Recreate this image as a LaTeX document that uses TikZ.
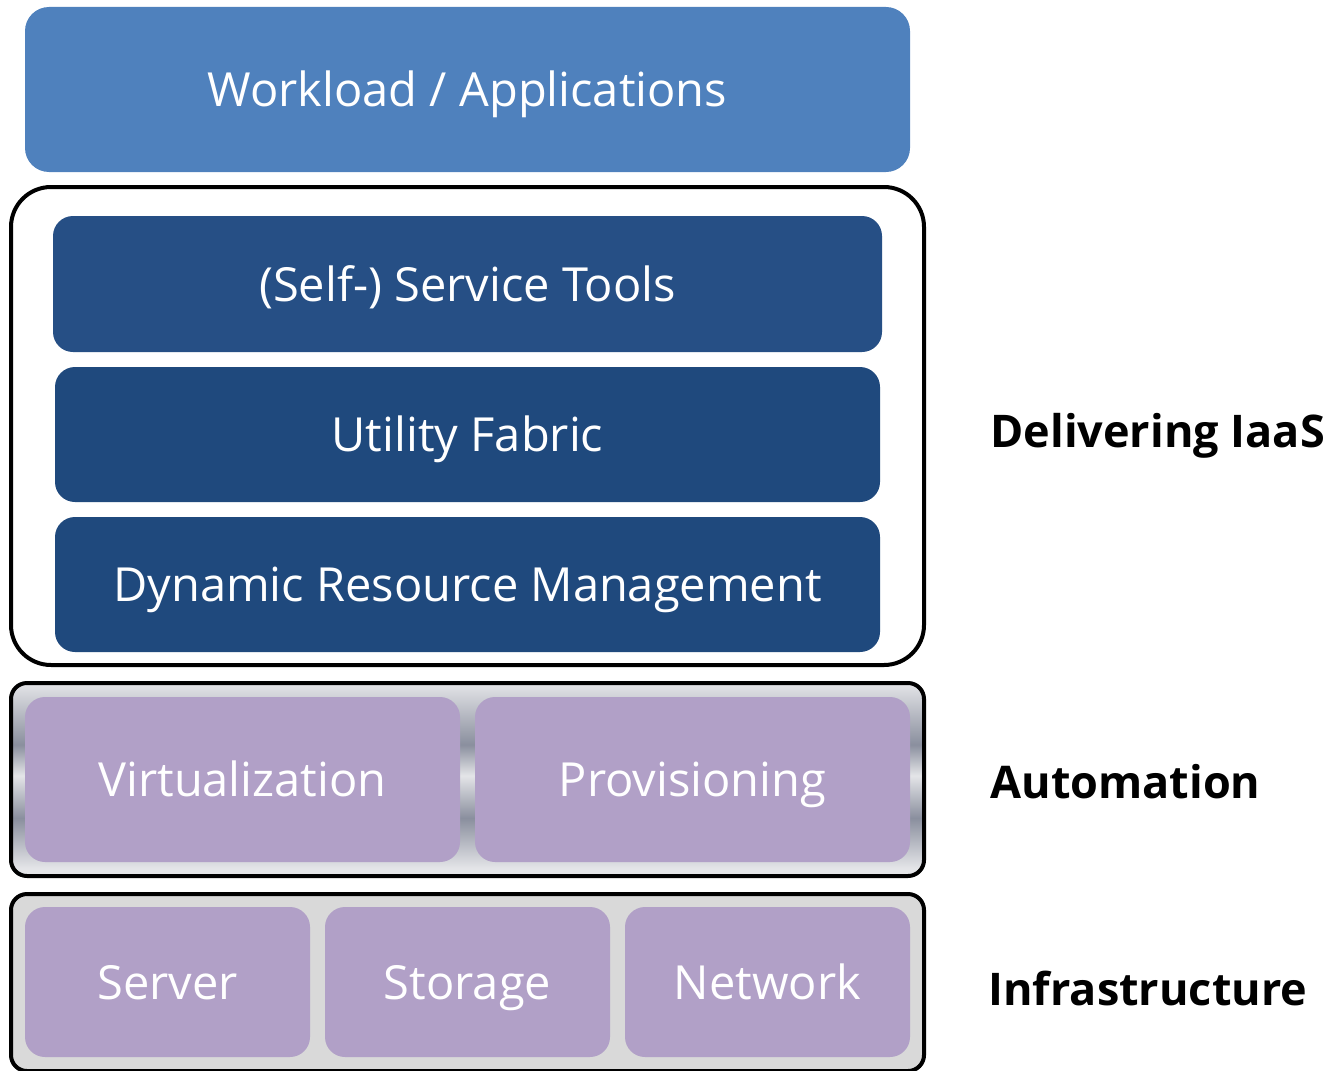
\documentclass[tikz,border=0pt]{standalone}
\usepackage{fontspec}
\setmainfont{Open Sans}
\usetikzlibrary{positioning}

\definecolor{workblue}{HTML}{4F81BD}
\definecolor{toolblue}{HTML}{264F85}
\definecolor{darkblue}{HTML}{1F497D}
\definecolor{lilac}{HTML}{B1A0C7}
\definecolor{infragray}{HTML}{D9D9D9}
\definecolor{metallight}{HTML}{E4E5E8}
\definecolor{metaldark}{HTML}{8A8F9E}

\pgfdeclareverticalshading{metal}{100bp}{
  color(0bp)=(metallight); color(27bp)=(metallight);
  color(40bp)=(metaldark); color(51bp)=(metallight);
  color(59bp)=(metaldark); color(75bp)=(metallight);
  color(100bp)=(metallight)}

\begin{document}
\begin{tikzpicture}[
  x=0.5pt, y=-0.5pt,
  layer/.style = {rounded corners=10pt, text=white, inner sep=0pt,
                  text height=17pt, text depth=0pt,
                  font=\fontsize{23.5}{28}\selectfont},
  frame/.style = {draw=black, line width=2pt, inner sep=0pt},
  side/.style  = {anchor=west, inner sep=0pt,
                  font=\fontsize{22.5}{27}\selectfont\bfseries}
]
  \useasboundingbox (0,0) rectangle (1342,1070);

  % Top layer
  \node[layer, fill=workblue, rounded corners=12pt, minimum width=442.5pt,
        minimum height=82.5pt] (workload) at (467.5,89.5) {Workload / Applications};

  % Delivering IaaS
  \node[frame, fill=white, rounded corners=20pt, minimum width=456.5pt,
        minimum height=239pt] (iaas) at (467.5,426) {};
  \node[layer, fill=toolblue, minimum width=414.5pt, minimum height=68pt]
        (tools) at (467.5,284) {(Self-) Service Tools};
  \node[layer, fill=darkblue, minimum width=412.5pt, minimum height=67.5pt]
        (fabric) at (467.5,434.5) {Utility Fabric};
  \node[layer, fill=darkblue, minimum width=412.5pt, minimum height=67.5pt]
        (drm) at (467.5,584.5) {Dynamic Resource Management};

  % Automation
  \node[frame, shading=metal, rounded corners=8pt, minimum width=456.5pt,
        minimum height=96.5pt] (auto) at (467.5,779.5) {};
  \node[layer, fill=lilac, minimum width=217.5pt, minimum height=82.5pt]
        (virt) at (242.5,779.5) {Virtualization};
  \node[layer, fill=lilac, minimum width=217.5pt, minimum height=82.5pt]
        (prov) at (692.5,779.5) {Provisioning};

  % Infrastructure
  \node[frame, fill=infragray, rounded corners=8pt, minimum width=456.5pt,
        minimum height=88.5pt] (infra) at (467.5,982.5) {};
  \node[layer, fill=lilac, minimum width=142.5pt, minimum height=75pt]
        (server) at (167.5,982) {Server};
  \node[layer, fill=lilac, minimum width=142.5pt, minimum height=75pt]
        (storage) at (467.5,982) {Storage};
  \node[layer, fill=lilac, minimum width=142.5pt, minimum height=75pt]
        (network) at (767.5,982) {Network};

  % Labels
  \node[side] (l_iaas) at (990,436) {Delivering IaaS};
  \node[side] (l_auto) at (990,782) {Automation};
  \node[side] (l_infra) at (988,988) {Infrastructure};

\end{tikzpicture}
\end{document}
